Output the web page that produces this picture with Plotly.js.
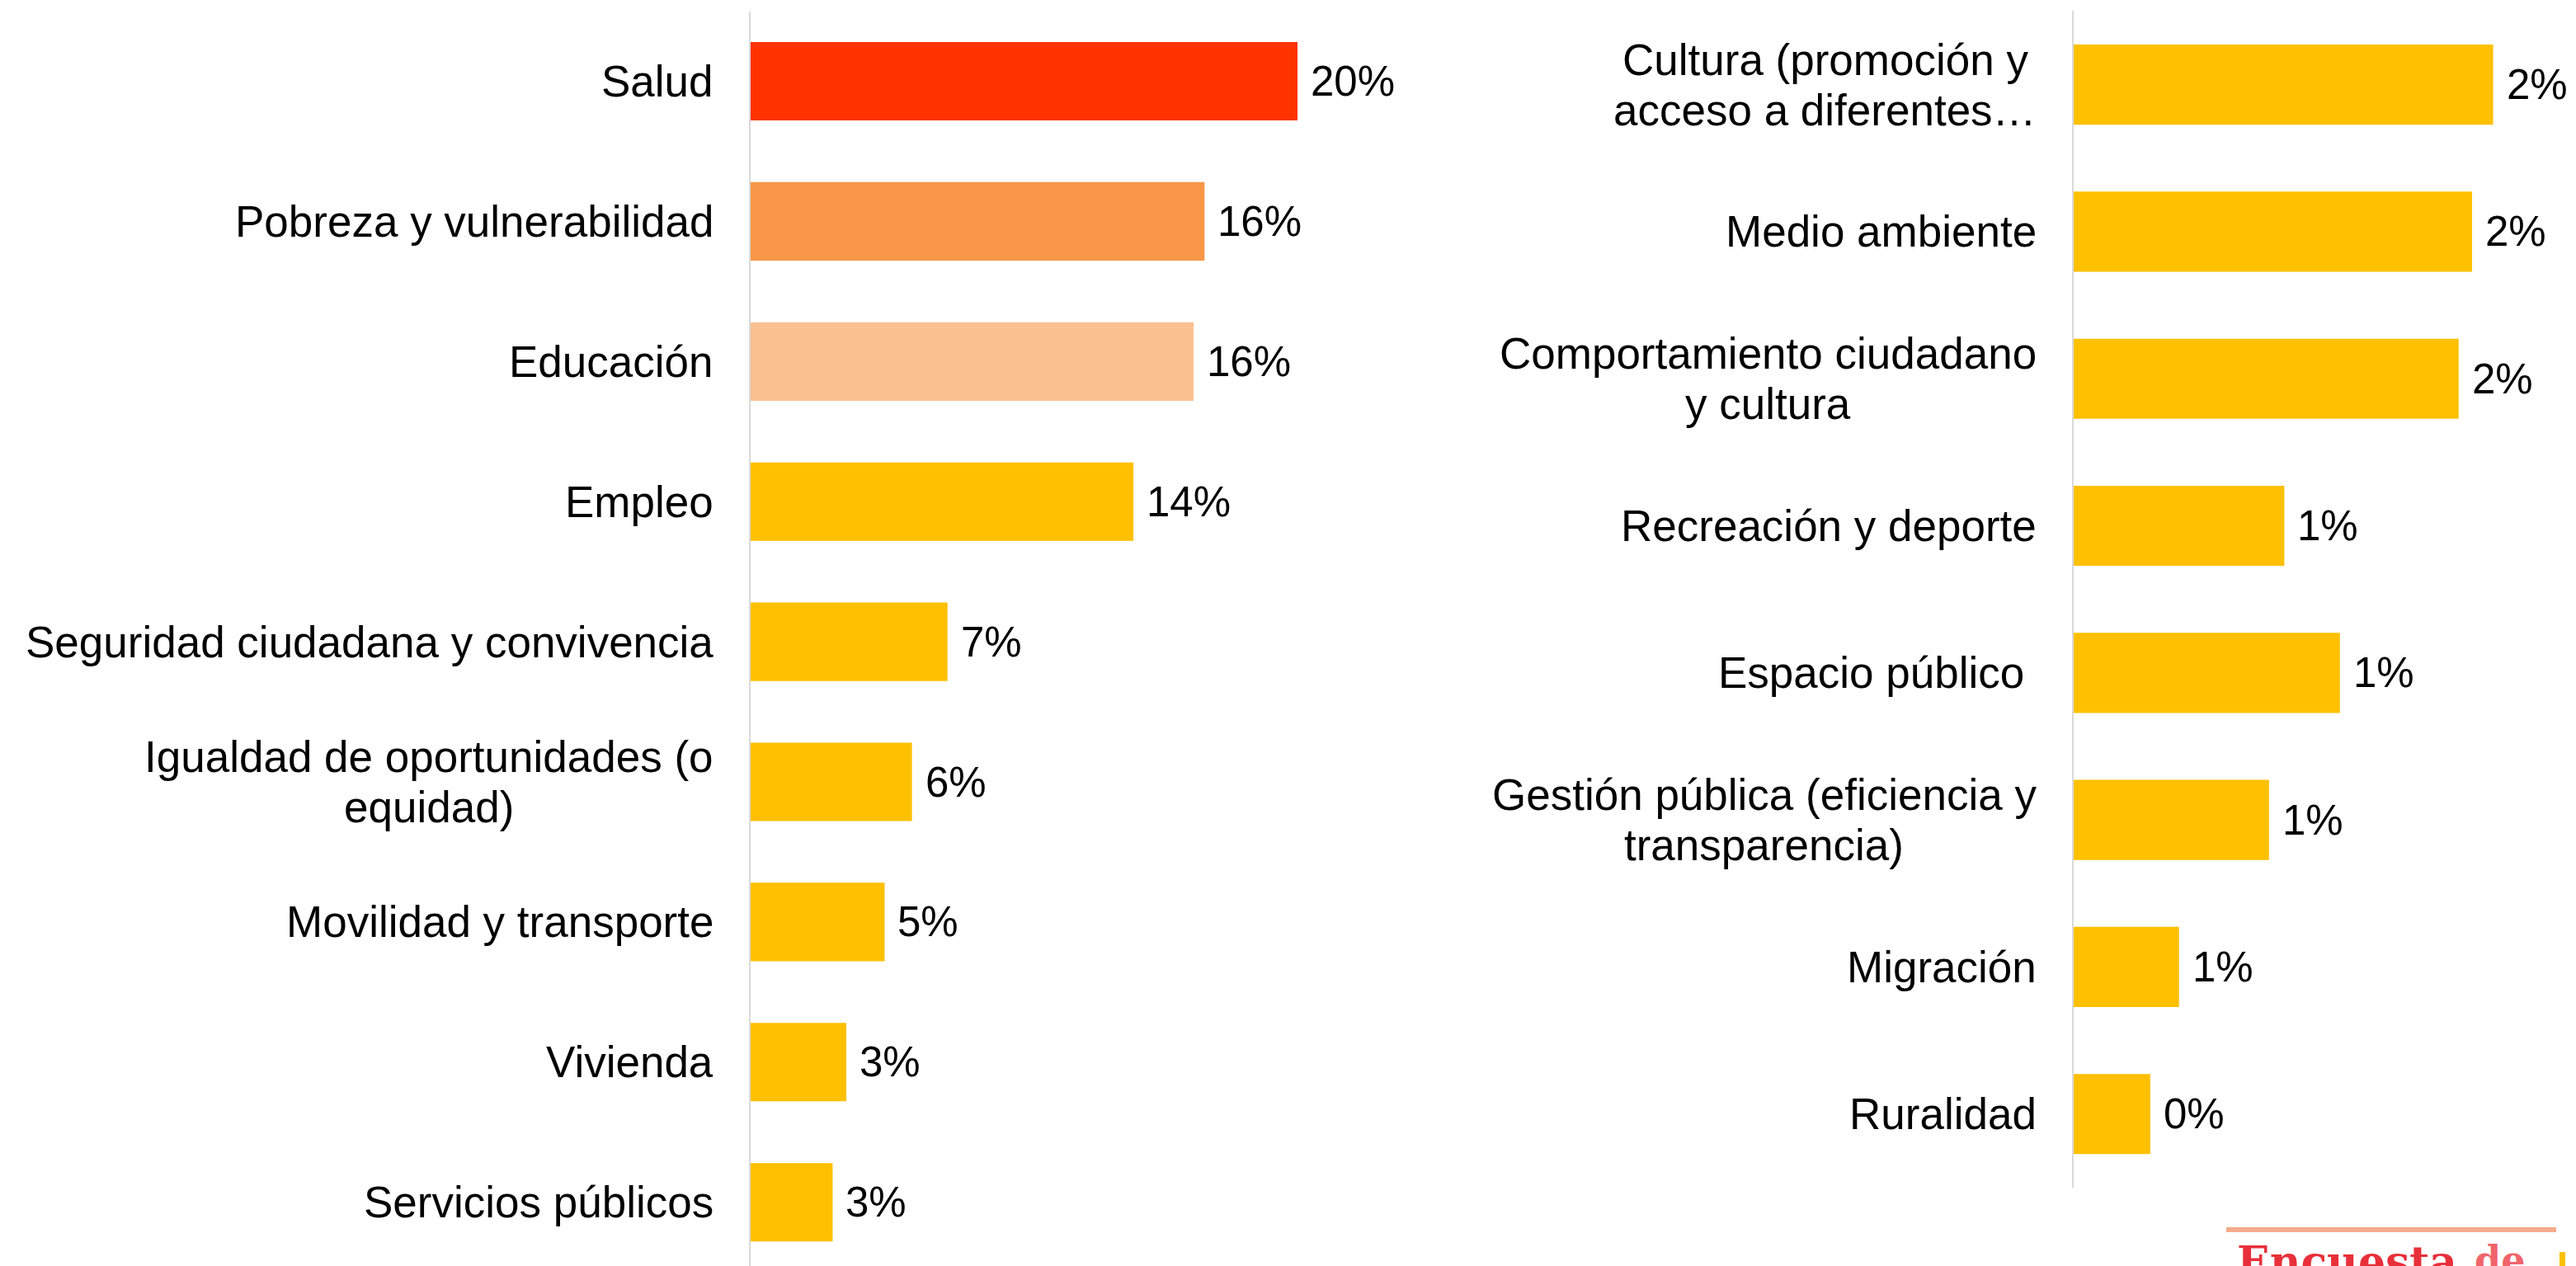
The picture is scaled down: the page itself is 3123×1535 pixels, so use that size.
<!DOCTYPE html>
<html>
<head>
<meta charset="utf-8">
<script src="https://cdn.plot.ly/plotly-3.0.1.min.js"></script>
<style>
  html, body { margin: 0; padding: 0; background: #ffffff; }
  #chart { width: 3123px; height: 1535px; }
</style>
</head>
<body>
<div id="chart"></div>
<script>
// ---------- data ----------
const leftCategories = [
  'Salud',
  'Pobreza y vulnerabilidad',
  'Educación',
  'Empleo',
  'Seguridad ciudadana y convivencia',
  'Igualdad de oportunidades (o<br>equidad)',
  'Movilidad y transporte',
  'Vivienda',
  'Servicios públicos'
];
const leftValues = [20.0, 16.6, 16.2, 14.0, 7.2, 5.9, 4.9, 3.5, 3.0];
const leftLabels = ['20%', '16%', '16%', '14%', '7%', '6%', '5%', '3%', '3%'];

const rightCategories = [
  'Cultura (promoción y<br>acceso a diferentes…',
  'Medio ambiente',
  'Comportamiento ciudadano<br>y cultura',
  'Recreación y deporte',
  'Espacio público\u00a0',
  'Gestión pública (eficiencia y<br>transparencia)',
  'Migración',
  'Ruralidad'
];
const rightValues = [2.19, 2.08, 2.01, 1.10, 1.39, 1.02, 0.55, 0.40];
const rightLabels = ['2%', '2%', '2%', '1%', '1%', '1%', '1%', '0%'];

// ---------- styles ----------
const leftColors = ['#ff3300', '#f79646', '#fac090', '#ffc000', '#ffc000', '#ffc000', '#ffc000', '#ffc000', '#ffc000'];
const rightColor = '#ffc000';
const labelFont = { family: 'Liberation Sans, Arial, sans-serif', size: 53, color: '#000000' };
const valueFont = { family: 'Liberation Sans, Arial, sans-serif', size: 51, color: '#000000' };
const LABEL_GAP = 43;     // px between label block and axis
const LINE_GAP = 61;      // px between the two lines of a wrapped label

const measureCtx = document.createElement('canvas').getContext('2d');
measureCtx.font = labelFont.size + 'px "Liberation Sans", Arial, sans-serif';
function textWidth(s) { return measureCtx.measureText(s.replace(/\u00a0/g, ' ')).width; }

const traces = [
  {
    type: 'bar', orientation: 'h',
    x: leftValues, y: leftCategories,
    xaxis: 'x', yaxis: 'y',
    marker: { color: leftColors, line: { width: 0 } },
    width: 0.56,
    hoverinfo: 'skip', showlegend: false
  },
  {
    type: 'bar', orientation: 'h',
    x: rightValues, y: rightCategories,
    xaxis: 'x2', yaxis: 'y2',
    marker: { color: rightColor, line: { width: 0 } },
    width: 0.545,
    hoverinfo: 'skip', showlegend: false
  }
];

const annotations = [];
function addLabels(cats, vals, labs, xr, yr) {
  cats.forEach((c, i) => {
    const lines = c.split('<br>');
    const widths = lines.map(textWidth);
    const maxW = Math.max.apply(null, widths);
    lines.forEach((ln, k) => {
      const yshift = (lines.length - 1) * LINE_GAP / 2 - k * LINE_GAP;
      annotations.push({
        xref: xr, yref: yr, x: 0, y: c,
        xanchor: 'right', yanchor: 'middle',
        xshift: -LABEL_GAP - (maxW - widths[k]) / 2, yshift: yshift,
        text: ln, showarrow: false, font: labelFont
      });
    });
    annotations.push({
      xref: xr, yref: yr, x: vals[i], y: c,
      xanchor: 'left', yanchor: 'middle', xshift: 14,
      text: labs[i], showarrow: false, font: valueFont
    });
  });
}
addLabels(leftCategories, leftValues, leftLabels, 'x', 'y');
addLabels(rightCategories, rightValues, rightLabels, 'x2', 'y2');

// partial logo at the bottom right
annotations.push({
  xref: 'paper', yref: 'paper', x: 2710 / 3123, y: 0.0245,
  xanchor: 'left', yanchor: 'top', showarrow: false,
  text: '<b>Encuesta</b>',
  font: { family: 'DejaVu Serif, serif', size: 52, color: '#e8303a' }
});
annotations.push({
  xref: 'paper', yref: 'paper', x: 2998 / 3123, y: 0.0245,
  xanchor: 'left', yanchor: 'top', yshift: -2, showarrow: false,
  text: '<b>de</b>',
  font: { family: 'DejaVu Serif, serif', size: 46, color: '#f0646a' }
});

const axisX = { showgrid: false, zeroline: false, showticklabels: false, ticks: '', showline: false, fixedrange: true };
const axisY = { type: 'category', showgrid: false, zeroline: false, showticklabels: false, ticks: '',
  showline: true, linecolor: '#d9d9d9', linewidth: 2, layer: 'below traces', fixedrange: true };

const layout = {
  width: 3123, height: 1535,
  margin: { l: 0, r: 0, t: 0, b: 0, pad: 0 },
  paper_bgcolor: '#ffffff', plot_bgcolor: 'rgba(0,0,0,0)',
  showlegend: false,
  xaxis: Object.assign({}, axisX, { domain: [0.29139, 0.55676], range: [0, 25], anchor: 'y' }),
  yaxis: Object.assign({}, axisY, { domain: [0, 0.99114], range: [8.455, -0.5], anchor: 'x' }),
  xaxis2: Object.assign({}, axisX, { domain: [0.80499, 0.99311], range: [0, 2.53], anchor: 'y2' }),
  yaxis2: Object.assign({}, axisY, { domain: [0.06195, 0.99124], range: [7.5, -0.5], anchor: 'x2' }),
  annotations: annotations,
  shapes: [
    { type: 'line', xref: 'paper', yref: 'paper', x0: 2699 / 3123, x1: 3099 / 3123, y0: 0.02866, y1: 0.02866,
      line: { color: '#f4ab8c', width: 6 } },
    { type: 'rect', xref: 'paper', yref: 'paper', x0: 3103 / 3123, x1: 3110 / 3123, y0: 0, y1: 0.011,
      fillcolor: '#ffc000', line: { width: 0 } }
  ]
};

Plotly.newPlot('chart', traces, layout, { staticPlot: true, displayModeBar: false });
</script>
</body>
</html>
